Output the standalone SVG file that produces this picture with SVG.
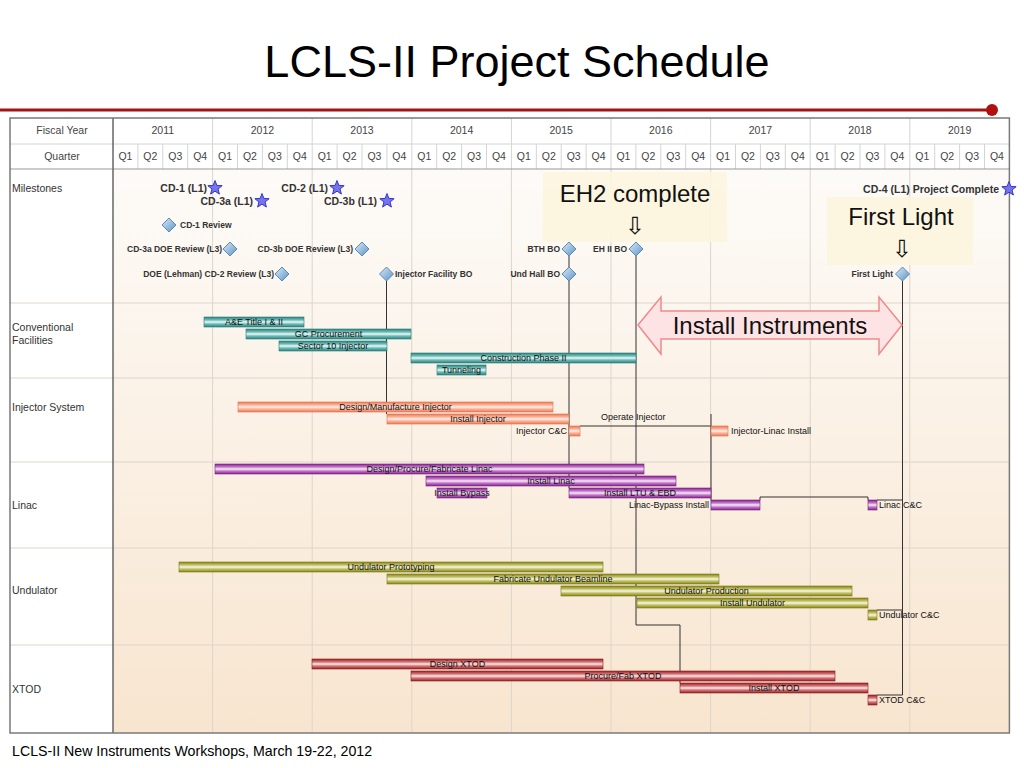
<svg xmlns="http://www.w3.org/2000/svg" width="1024" height="768" viewBox="0 0 1024 768">
<defs>
<linearGradient id="bg" x1="0" y1="0" x2="0" y2="1">
<stop offset="0" stop-color="#fdfbf8"/><stop offset="1" stop-color="#f8e5cf"/>
</linearGradient>
<linearGradient id="gTeal" x1="0" y1="0" x2="0" y2="1">
<stop offset="0" stop-color="#2a8580"/><stop offset="0.3" stop-color="#6fbcb8"/><stop offset="0.5" stop-color="#eef9f8"/><stop offset="0.7" stop-color="#6fbcb8"/><stop offset="1" stop-color="#2a8580"/>
</linearGradient>
<linearGradient id="gSal" x1="0" y1="0" x2="0" y2="1">
<stop offset="0" stop-color="#ef7a55"/><stop offset="0.3" stop-color="#f9b49a"/><stop offset="0.5" stop-color="#fff0ea"/><stop offset="0.7" stop-color="#f9b49a"/><stop offset="1" stop-color="#ef7a55"/>
</linearGradient>
<linearGradient id="gPur" x1="0" y1="0" x2="0" y2="1">
<stop offset="0" stop-color="#86228e"/><stop offset="0.3" stop-color="#c279c8"/><stop offset="0.5" stop-color="#f8ecf9"/><stop offset="0.7" stop-color="#c279c8"/><stop offset="1" stop-color="#86228e"/>
</linearGradient>
<linearGradient id="gOli" x1="0" y1="0" x2="0" y2="1">
<stop offset="0" stop-color="#878514"/><stop offset="0.3" stop-color="#c3c16a"/><stop offset="0.5" stop-color="#f8f8e6"/><stop offset="0.7" stop-color="#c3c16a"/><stop offset="1" stop-color="#878514"/>
</linearGradient>
<linearGradient id="gRed" x1="0" y1="0" x2="0" y2="1">
<stop offset="0" stop-color="#9c2024"/><stop offset="0.3" stop-color="#d2777a"/><stop offset="0.5" stop-color="#fbeaea"/><stop offset="0.7" stop-color="#d2777a"/><stop offset="1" stop-color="#9c2024"/>
</linearGradient>
<linearGradient id="gDia" x1="0" y1="0" x2="1" y2="1">
<stop offset="0" stop-color="#dcecf8"/><stop offset="1" stop-color="#5b92c4"/>
</linearGradient>
<polygon id="star" points="0,-7.5 1.88,-2.59 7.13,-2.32 3.04,0.99 4.41,6.07 0,3.2 -4.41,6.07 -3.04,0.99 -7.13,-2.32 -1.88,-2.59" fill="#7474ee" stroke="#3636c8" stroke-width="1"/>
<polygon id="dia" points="0,-7 7,0 0,7 -7,0" fill="url(#gDia)" stroke="#5a8ab8" stroke-width="1"/>
</defs>
<style>
text{font-family:"Liberation Sans",Arial,sans-serif}
.hd{font-size:10.5px;fill:#444;text-anchor:middle}
.rl{font-size:10.5px;fill:#333}
.bl{font-size:9px;fill:#111;text-anchor:middle}
.ol{font-size:9px;fill:#111}
.cd{font-size:10.5px;font-weight:bold;fill:#333}
.ms{font-size:8.5px;font-weight:bold;fill:#333}
.big{font-size:24px;fill:#111}
.arr{font-family:"DejaVu Sans",sans-serif;font-size:24px;fill:#111;text-anchor:middle}
.grid{stroke:#ddd5ca;stroke-width:1;fill:none}
.hl{stroke:#d4d4d4;stroke-width:1;fill:none}
.conn{stroke:#333;stroke-width:1;fill:none}
.teal{fill:url(#gTeal);stroke:#2a7a76;stroke-width:0.6}
.sal{fill:url(#gSal);stroke:#e0704c;stroke-width:0.6}
.pur{fill:url(#gPur);stroke:#7a1e82;stroke-width:0.6}
.oli{fill:url(#gOli);stroke:#7a7812;stroke-width:0.6}
.red{fill:url(#gRed);stroke:#8c1c20;stroke-width:0.6}
</style>

<rect width="1024" height="768" fill="#ffffff"/>

<!-- title -->
<text x="517" y="77" font-size="45" text-anchor="middle" fill="#000">LCLS-II Project Schedule</text>
<line x1="0" y1="110" x2="990" y2="110" stroke="#a31515" stroke-width="3"/>
<circle cx="992" cy="110" r="6" fill="#b01010"/>

<!-- table background -->
<rect x="113" y="169" width="896.4" height="564" fill="url(#bg)"/>
<rect x="10" y="118" width="103" height="615" fill="#fff"/>

<!-- body grid: year boundaries -->
<path class="grid" d="M212.6,169V733M312.2,169V733M411.8,169V733M511.4,169V733M611,169V733M710.6,169V733M810.2,169V733M909.8,169V733"/>
<!-- row separators -->
<path class="grid" d="M10,303H1009M10,378H1009M10,462H1009M10,548H1009M10,645H1009" stroke="#d8d0c6"/>

<!-- header grid -->
<path class="hl" d="M113,144H1009.4M212.6,118V169M312.2,118V169M411.8,118V169M511.4,118V169M611,118V169M710.6,118V169M810.2,118V169M909.8,118V169"/>
<path class="hl" d="M137.9,144V169M162.8,144V169M187.7,144V169M237.5,144V169M262.4,144V169M287.3,144V169M337.1,144V169M362,144V169M386.9,144V169M436.7,144V169M461.6,144V169M486.5,144V169M536.3,144V169M561.2,144V169M586.1,144V169M635.9,144V169M660.8,144V169M685.7,144V169M735.5,144V169M760.4,144V169M785.3,144V169M835.1,144V169M860,144V169M884.9,144V169M934.7,144V169M959.6,144V169M984.5,144V169"/>
<line x1="10" y1="144" x2="113" y2="144" stroke="#d4d4d4"/>
<line x1="10" y1="169" x2="1009.4" y2="169" stroke="#999" stroke-width="1"/>
<line x1="113" y1="118" x2="113" y2="733" stroke="#666" stroke-width="1.5"/>
<rect x="10" y="118" width="999.4" height="615" fill="none" stroke="#7a7a7a" stroke-width="1.5"/>

<!-- header text -->
<g id="header">
<text class="hd" x="62" y="134">Fiscal Year</text>
<text class="hd" x="62" y="160">Quarter</text>
<text class="hd" x="162.8" y="134">2011</text>
<text class="hd" x="262.4" y="134">2012</text>
<text class="hd" x="362" y="134">2013</text>
<text class="hd" x="461.6" y="134">2014</text>
<text class="hd" x="561.2" y="134">2015</text>
<text class="hd" x="660.8" y="134">2016</text>
<text class="hd" x="760.4" y="134">2017</text>
<text class="hd" x="860" y="134">2018</text>
<text class="hd" x="959.6" y="134">2019</text>
<text class="hd" x="125.45" y="160">Q1</text><text class="hd" x="150.35" y="160">Q2</text><text class="hd" x="175.25" y="160">Q3</text><text class="hd" x="200.15" y="160">Q4</text>
<text class="hd" x="225.05" y="160">Q1</text><text class="hd" x="249.95" y="160">Q2</text><text class="hd" x="274.85" y="160">Q3</text><text class="hd" x="299.75" y="160">Q4</text>
<text class="hd" x="324.65" y="160">Q1</text><text class="hd" x="349.55" y="160">Q2</text><text class="hd" x="374.45" y="160">Q3</text><text class="hd" x="399.35" y="160">Q4</text>
<text class="hd" x="424.25" y="160">Q1</text><text class="hd" x="449.15" y="160">Q2</text><text class="hd" x="474.05" y="160">Q3</text><text class="hd" x="498.95" y="160">Q4</text>
<text class="hd" x="523.85" y="160">Q1</text><text class="hd" x="548.75" y="160">Q2</text><text class="hd" x="573.65" y="160">Q3</text><text class="hd" x="598.55" y="160">Q4</text>
<text class="hd" x="623.45" y="160">Q1</text><text class="hd" x="648.35" y="160">Q2</text><text class="hd" x="673.25" y="160">Q3</text><text class="hd" x="698.15" y="160">Q4</text>
<text class="hd" x="723.05" y="160">Q1</text><text class="hd" x="747.95" y="160">Q2</text><text class="hd" x="772.85" y="160">Q3</text><text class="hd" x="797.75" y="160">Q4</text>
<text class="hd" x="822.65" y="160">Q1</text><text class="hd" x="847.55" y="160">Q2</text><text class="hd" x="872.45" y="160">Q3</text><text class="hd" x="897.35" y="160">Q4</text>
<text class="hd" x="922.25" y="160">Q1</text><text class="hd" x="947.15" y="160">Q2</text><text class="hd" x="972.05" y="160">Q3</text><text class="hd" x="996.95" y="160">Q4</text>
</g>

<!-- row labels -->
<g id="rowlabels">
<text class="rl" x="12" y="192">Milestones</text>
<text class="rl" x="12" y="331">Conventional</text>
<text class="rl" x="12" y="344">Facilities</text>
<text class="rl" x="12" y="411">Injector System</text>
<text class="rl" x="12" y="509">Linac</text>
<text class="rl" x="12" y="594">Undulator</text>
<text class="rl" x="12" y="693">XTOD</text>
</g>

<!-- callout backgrounds -->
<rect x="543" y="172" width="184" height="70" fill="#fcf5df" opacity="0.9"/>
<rect x="827" y="197" width="146" height="68" fill="#fcf5df" opacity="0.9"/>

<!-- connectors -->
<g id="connectors" class="conn">
<path d="M386.5,281V414"/>
<path d="M569,256V267M569,281V488"/>
<path d="M636,256V625H680V683"/>
<path d="M580,426H711M711,414V500"/>
<path d="M760,500V497H868V500"/>
<path d="M902.5,281V695H877M877,610H902.5M877,500H902.5"/>
</g>

<!-- milestones -->
<g id="ms-cd1"><text class="cd" x="207" y="192" text-anchor="end">CD-1 (L1)</text><use href="#star" x="215" y="188"/></g>
<g id="ms-cd3a"><text class="cd" x="253" y="205" text-anchor="end">CD-3a (L1)</text><use href="#star" x="262" y="201"/></g>
<g id="ms-cd2"><text class="cd" x="328" y="192" text-anchor="end">CD-2 (L1)</text><use href="#star" x="337" y="188"/></g>
<g id="ms-cd3b"><text class="cd" x="377" y="205" text-anchor="end">CD-3b (L1)</text><use href="#star" x="387" y="201"/></g>
<g id="ms-cd1rev"><use href="#dia" x="169" y="225"/><text class="ms" x="180" y="228">CD-1 Review</text></g>
<g id="ms-cd3adoe"><text class="ms" x="222" y="252" text-anchor="end">CD-3a DOE Review (L3)</text><use href="#dia" x="230" y="249"/></g>
<g id="ms-cd3bdoe"><text class="ms" x="353" y="252" text-anchor="end">CD-3b DOE Review (L3)</text><use href="#dia" x="362" y="249"/></g>
<g id="ms-lehman"><text class="ms" x="274" y="277" text-anchor="end">DOE (Lehman) CD-2 Review (L3)</text><use href="#dia" x="282" y="274"/></g>
<g id="ms-injbo"><use href="#dia" x="386.5" y="274"/><text class="ms" x="395" y="277">Injector Facility BO</text></g>
<g id="ms-bth"><text class="ms" x="560" y="252" text-anchor="end">BTH BO</text><use href="#dia" x="569" y="249"/></g>
<g id="ms-ehii"><text class="ms" x="627" y="252" text-anchor="end">EH II BO</text><use href="#dia" x="636" y="249"/></g>
<g id="ms-undhall"><text class="ms" x="560" y="277" text-anchor="end">Und Hall BO</text><use href="#dia" x="569" y="274"/></g>
<g id="ms-firstlight"><text class="ms" x="893" y="277" text-anchor="end">First Light</text><use href="#dia" x="902.5" y="274"/></g>
<g id="ms-cd4"><text class="cd" x="999" y="193" text-anchor="end">CD-4 (L1) Project Complete</text><use href="#star" x="1009" y="189"/></g>

<!-- callouts -->
<g id="callout-eh2">
<text class="big" x="635" y="202" text-anchor="middle">EH2 complete</text>
<text class="arr" x="635" y="234">⇩</text>
</g>
<g id="callout-firstlight">
<text class="big" x="901" y="225" text-anchor="middle">First Light</text>
<text class="arr" x="902" y="257">⇩</text>
</g>
<g id="install-instruments">
<polygon points="638,325 661,297 661,311 879,311 879,297 902,325 879,354 879,339 661,339 661,354" fill="#fde3e3" stroke="#ef8a8a" stroke-width="1.5"/>
<text class="big" x="770" y="334" text-anchor="middle">Install Instruments</text>
</g>

<!-- Conventional Facilities -->
<g id="cf-ae"><rect class="teal" x="204" y="317" width="100" height="10"/><text class="bl" x="254" y="325">A&amp;E Title I &amp; II</text></g>
<g id="cf-gc"><rect class="teal" x="246" y="329" width="165" height="10"/><text class="bl" x="328.5" y="337">GC Procurement</text></g>
<g id="cf-s10"><rect class="teal" x="279" y="341" width="108" height="10"/><text class="bl" x="333" y="349">Sector 10 Injector</text></g>
<g id="cf-cp2"><rect class="teal" x="411" y="353" width="225" height="10"/><text class="bl" x="523.5" y="361">Construction Phase II</text></g>
<g id="cf-tun"><rect class="teal" x="437" y="365" width="49" height="10"/><text class="bl" x="461.5" y="373">Tunneling</text></g>

<!-- Injector System -->
<g id="inj-design"><rect class="sal" x="238" y="402" width="315" height="10"/><text class="bl" x="395.5" y="410">Design/Manufacture Injector</text></g>
<g id="inj-install"><rect class="sal" x="387" y="414" width="182" height="10"/><text class="bl" x="478" y="422">Install Injector</text></g>
<g id="inj-cc"><rect class="sal" x="569" y="426" width="11" height="10"/><text class="ol" x="567" y="434" text-anchor="end">Injector C&amp;C</text></g>
<g id="inj-operate"><text class="ol" x="601" y="420">Operate Injector</text></g>
<g id="inj-linac"><rect class="sal" x="711" y="426" width="17" height="10"/><text class="ol" x="731" y="434">Injector-Linac Install</text></g>

<!-- Linac -->
<g id="lin-design"><rect class="pur" x="215" y="464" width="429" height="10"/><text class="bl" x="429.5" y="472">Design/Procure/Fabricate Linac</text></g>
<g id="lin-install"><rect class="pur" x="426" y="476" width="250" height="10"/><text class="bl" x="551" y="484">Install Linac</text></g>
<g id="lin-bypass"><rect class="pur" x="437" y="488" width="50" height="10"/><text class="bl" x="462" y="496">Install Bypass</text></g>
<g id="lin-ltu"><rect class="pur" x="569" y="488" width="142" height="10"/><text class="bl" x="640" y="496">Install LTU &amp; EBD</text></g>
<g id="lin-bpinst"><rect class="pur" x="711" y="500" width="49" height="10"/><text class="ol" x="709" y="508" text-anchor="end">Linac-Bypass Install</text></g>
<g id="lin-cc"><rect class="pur" x="868" y="500" width="9" height="10"/><text class="ol" x="879" y="508">Linac C&amp;C</text></g>

<!-- Undulator -->
<g id="und-proto"><rect class="oli" x="179" y="562" width="424" height="10"/><text class="bl" x="391" y="570">Undulator Prototyping</text></g>
<g id="und-fab"><rect class="oli" x="387" y="574" width="332" height="10"/><text class="bl" x="553" y="582">Fabricate Undulator Beamline</text></g>
<g id="und-prod"><rect class="oli" x="561" y="586" width="291" height="10"/><text class="bl" x="706.5" y="594">Undulator Production</text></g>
<g id="und-install"><rect class="oli" x="637" y="598" width="231" height="10"/><text class="bl" x="752.5" y="606">Install Undulator</text></g>
<g id="und-cc"><rect class="oli" x="868" y="610" width="9" height="10"/><text class="ol" x="879" y="618">Undulator C&amp;C</text></g>

<!-- XTOD -->
<g id="xt-design"><rect class="red" x="312" y="659" width="291" height="10"/><text class="bl" x="457.5" y="667">Design XTOD</text></g>
<g id="xt-proc"><rect class="red" x="411" y="671" width="424" height="10"/><text class="bl" x="623" y="679">Procure/Fab XTOD</text></g>
<g id="xt-install"><rect class="red" x="680" y="683" width="188" height="10"/><text class="bl" x="774" y="691">Install XTOD</text></g>
<g id="xt-cc"><rect class="red" x="868" y="695" width="9" height="10"/><text class="ol" x="879" y="703">XTOD C&amp;C</text></g>

<!-- footer -->
<text x="12" y="756" font-size="14.2" fill="#000">LCLS-II New Instruments Workshops, March 19-22, 2012</text>
</svg>
